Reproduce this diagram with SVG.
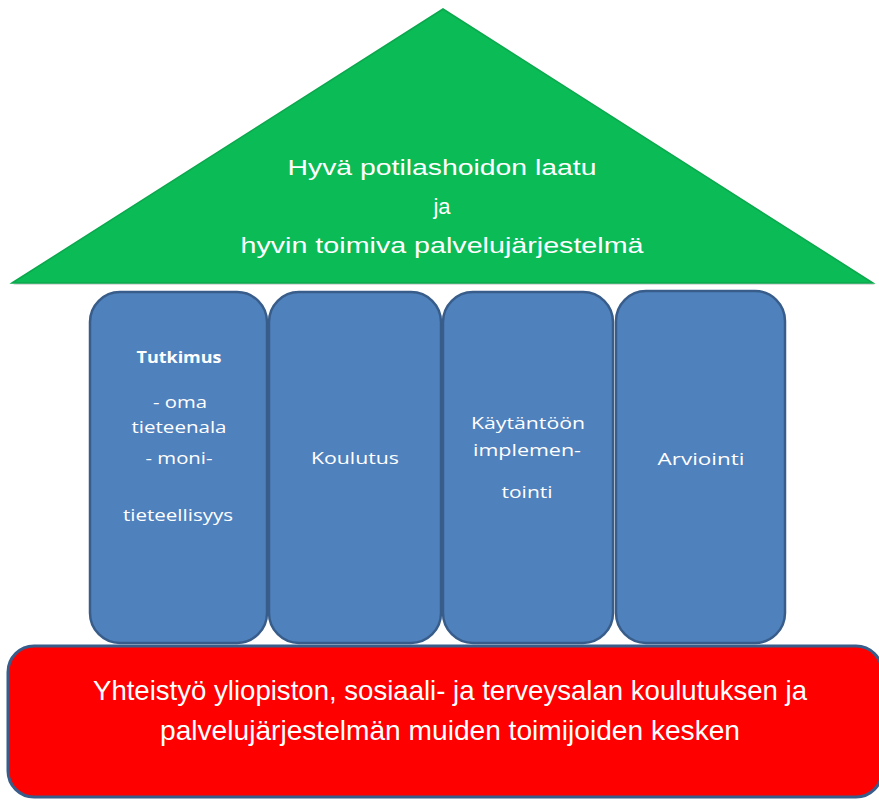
<svg xmlns="http://www.w3.org/2000/svg" width="879" height="800" viewBox="0 0 879 800">
<defs>
<style>
.pillar{fill:#4F81BD;stroke:#385D8A;stroke-width:2.5}
.pt{font-family:"Open Sans","Liberation Sans",sans-serif;font-size:16px;fill:#fff;text-anchor:middle}
.big{font-family:"Liberation Sans Narrow","Liberation Sans",sans-serif;fill:#fff;text-anchor:middle}
</style>
</defs>
<rect width="879" height="800" fill="#fff"/>
<g id="roof">
<polygon points="13,285 445,12 875,285" fill="#9a9a9a" opacity="0.35"/>
<polygon points="12,283 443,9 873,283" fill="#0ABB56" stroke="#0BA84D" stroke-width="1.5"/>
<text class="big" font-size="22" x="442" y="175" textLength="309" lengthAdjust="spacingAndGlyphs">Hyvä potilashoidon laatu</text>
<text class="big" font-size="22" x="442" y="214">ja</text>
<text class="big" font-size="22" x="442" y="253" textLength="403" lengthAdjust="spacingAndGlyphs">hyvin toimiva palvelujärjestelmä</text>
</g>
<g id="tutkimus">
<rect class="pillar" x="90" y="292" width="177" height="351" rx="30"/>
<text class="pt" x="179" y="363" font-weight="bold" textLength="85" lengthAdjust="spacingAndGlyphs">Tutkimus</text>
<text class="pt" x="180" y="408" textLength="54" lengthAdjust="spacingAndGlyphs">- oma</text>
<text class="pt" x="179" y="433" textLength="95" lengthAdjust="spacingAndGlyphs">tieteenala</text>
<text class="pt" x="179" y="464" textLength="67" lengthAdjust="spacingAndGlyphs">- moni-</text>
<text class="pt" x="178" y="521" textLength="110" lengthAdjust="spacingAndGlyphs">tieteellisyys</text>
</g>
<g id="koulutus">
<rect class="pillar" x="269" y="292" width="172" height="351" rx="30"/>
<text class="pt" x="355" y="464" textLength="88" lengthAdjust="spacingAndGlyphs">Koulutus</text>
</g>
<g id="kaytantoon">
<rect class="pillar" x="443" y="292" width="170" height="351" rx="30"/>
<text class="pt" x="528" y="429" textLength="114" lengthAdjust="spacingAndGlyphs">Käytäntöön</text>
<text class="pt" x="527" y="456" textLength="108" lengthAdjust="spacingAndGlyphs">implemen-</text>
<text class="pt" x="527" y="498" textLength="51" lengthAdjust="spacingAndGlyphs">tointi</text>
</g>
<g id="arviointi">
<rect class="pillar" x="616" y="291" width="169" height="352" rx="30"/>
<text class="pt" x="701" y="465" textLength="87" lengthAdjust="spacingAndGlyphs">Arviointi</text>
</g>
<g id="base">
<rect x="8" y="646" width="874" height="151" rx="26" fill="#FF0000" stroke="#385D8A" stroke-width="3"/>
<text class="big" font-size="28" x="450" y="700" textLength="714" lengthAdjust="spacingAndGlyphs">Yhteistyö yliopiston, sosiaali- ja terveysalan koulutuksen ja</text>
<text class="big" font-size="28" x="450" y="740" textLength="580" lengthAdjust="spacingAndGlyphs">palvelujärjestelmän muiden toimijoiden kesken</text>
</g>
<g id="connectors"/>
</svg>
